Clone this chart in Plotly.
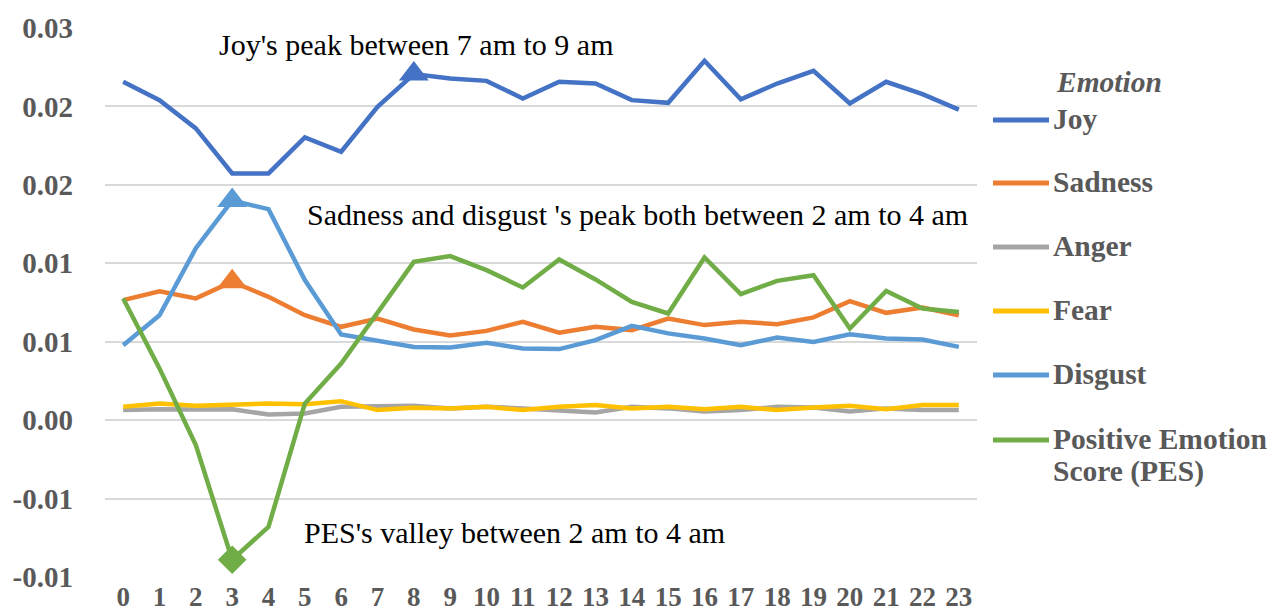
import plotly.graph_objects as go

hours = [str(h) for h in range(24)]

joy = [0.02157, 0.0204, 0.0186, 0.01573, 0.01573, 0.01802, 0.01711, 0.01997, 0.02206, 0.02178,
       0.02163, 0.0205, 0.02157, 0.02146, 0.0204, 0.02023, 0.02291, 0.02045, 0.02146, 0.02227,
       0.02019, 0.02157, 0.02078, 0.0198]
sadness = [0.00765, 0.00822, 0.00776, 0.00882, 0.00786, 0.00669, 0.00595, 0.00648, 0.00578, 0.0054,
           0.00569, 0.00627, 0.00557, 0.00595, 0.00574, 0.00648, 0.00606, 0.00627, 0.00612, 0.00655,
           0.00759, 0.00684, 0.00718, 0.00669]
anger = [0.00064, 0.0007, 0.00068, 0.0007, 0.00036, 0.00043, 0.00085, 0.00085, 0.00091, 0.00075,
         0.00085, 0.00075, 0.00062, 0.00049, 0.00085, 0.00075, 0.00055, 0.00064, 0.00085, 0.0008,
         0.00055, 0.00075, 0.00064, 0.00064]
fear = [0.00085, 0.00106, 0.00091, 0.00096, 0.00106, 0.00102, 0.00121, 0.00064, 0.00079, 0.00075,
        0.00085, 0.00064, 0.00085, 0.00096, 0.00075, 0.00085, 0.0007, 0.00085, 0.00064, 0.0008,
        0.00091, 0.0007, 0.00096, 0.00096]
disgust = [0.00478, 0.00669, 0.01096, 0.01400, 0.01345, 0.00893, 0.00546, 0.0051, 0.00467, 0.00463,
           0.00493, 0.00457, 0.00453, 0.0051, 0.00601, 0.00553, 0.00521, 0.00478, 0.00527, 0.00499,
           0.00548, 0.00521, 0.00514, 0.00467]
pes = [0.00776, 0.0033, -0.00159, -0.0089, -0.0068, 0.00106, 0.00361, 0.0068, 0.01009, 0.01046,
       0.00956, 0.00846, 0.01024, 0.00897, 0.00754, 0.0068, 0.01037, 0.00803, 0.00888, 0.00924,
       0.00584, 0.00824, 0.00712, 0.0069]

y_tickvals = [-0.01, -0.005, 0.0, 0.005, 0.01, 0.015, 0.02, 0.025]
y_ticktext = ["-0.01", "-0.01", "0.00", "0.01", "0.01", "0.02", "0.02", "0.03"]

legend_title = "Emotion"
series = [
    ("Joy", joy, "#4472C4"),
    ("Sadness", sadness, "#ED7D31"),
    ("Anger", anger, "#A5A5A5"),
    ("Fear", fear, "#FFC000"),
    ("Disgust", disgust, "#5B9BD5"),
    ("Positive Emotion<br>Score (PES)", pes, "#70AD47"),
]

# highlighted points (series name, hour index, symbol)
highlights = [("Joy", 8, "triangle-up"), ("Sadness", 3, "triangle-up"),
              ("Disgust", 3, "triangle-up"), ("Positive Emotion<br>Score (PES)", 3, "diamond")]

notes = [
    ("Joy's peak between 7 am to 9 am", 2.58, 0.02398),
    ("Sadness and disgust 's peak both between 2 am to 4 am", 5.0, 0.01312),
    ("PES's valley between 2 am to 4 am", 4.92, -0.00716),
]

serif = "Liberation Serif"
gray_text = "#595959"

# plot area in pixels (for placing the hand-drawn legend)
L, R, T, B = 105, 977, 28, 577
W, H = R - L, B - T


def px_x(p):
    return (p - L) / W


def px_y(p):
    return (B - p) / H


fig = go.Figure()
lookup = {}
for name, vals, color in series:
    lookup[name] = (vals, color)
    fig.add_trace(go.Scatter(
        x=hours, y=vals, mode="lines", name=name, showlegend=False,
        line=dict(color=color, width=4.5),
    ))

for name, idx, sym in highlights:
    vals, color = lookup[name]
    fig.add_trace(go.Scatter(
        x=[hours[idx]], y=[vals[idx]], mode="markers", showlegend=False,
        marker=dict(symbol=sym, size=26 if sym != "diamond" else 22, color=color,
                    line=dict(width=0)),
    ))

annotations = []
shapes = []

# legend title
annotations.append(dict(text=f"<b><i>{legend_title}</i></b>", xref="paper", yref="paper",
                        x=px_x(1054), y=px_y(82), xanchor="left", yanchor="middle",
                        showarrow=False, font=dict(family=serif, size=29.5, color=gray_text)))

row_y = [120, 183, 247, 311, 375, 440]
for (name, vals, color), ry in zip(series, row_y):
    shapes.append(dict(type="line", xref="paper", yref="paper",
                       x0=px_x(993), x1=px_x(1049), y0=px_y(ry), y1=px_y(ry),
                       line=dict(color=color, width=5)))
    lines = name.split("<br>")
    for k, ln in enumerate(lines):
        annotations.append(dict(text=f"<b>{ln}</b>", xref="paper", yref="paper",
                                x=px_x(1051), y=px_y(ry - 1 + 32 * k), xanchor="left",
                                yanchor="middle", showarrow=False,
                                font=dict(family=serif, size=29.5, color=gray_text)))

for text, nx, ny in notes:
    annotations.append(dict(text=text, xref="x", yref="y", x=nx, y=ny,
                            xanchor="left", yanchor="middle", showarrow=False,
                            font=dict(family=serif, size=30, color="black")))

fig.update_layout(
    width=1273, height=615,
    margin=dict(l=L, r=1273 - R, t=T, b=615 - B, autoexpand=False),
    plot_bgcolor="white", paper_bgcolor="white",
    showlegend=False,
    xaxis=dict(type="category", range=[-0.5, len(hours) - 0.5],
               showgrid=False, zeroline=False, showline=False,
               tickfont=dict(family=serif, size=27, color=gray_text, weight="bold"),
               ticks="", automargin=False, ticklabelstandoff=1),
    yaxis=dict(range=[-0.01, 0.025], tickvals=y_tickvals, ticktext=y_ticktext,
               showgrid=True, gridcolor="#D9D9D9", gridwidth=2, zeroline=False,
               showline=False, automargin=False,
               tickfont=dict(family=serif, size=29, color=gray_text, weight="bold"),
               ticklabelstandoff=31),
    annotations=annotations,
    shapes=shapes,
)

fig.write_html("out.html", config={"displayModeBar": False},
               post_script="document.body.style.margin='0';document.body.style.overflow='hidden';")
